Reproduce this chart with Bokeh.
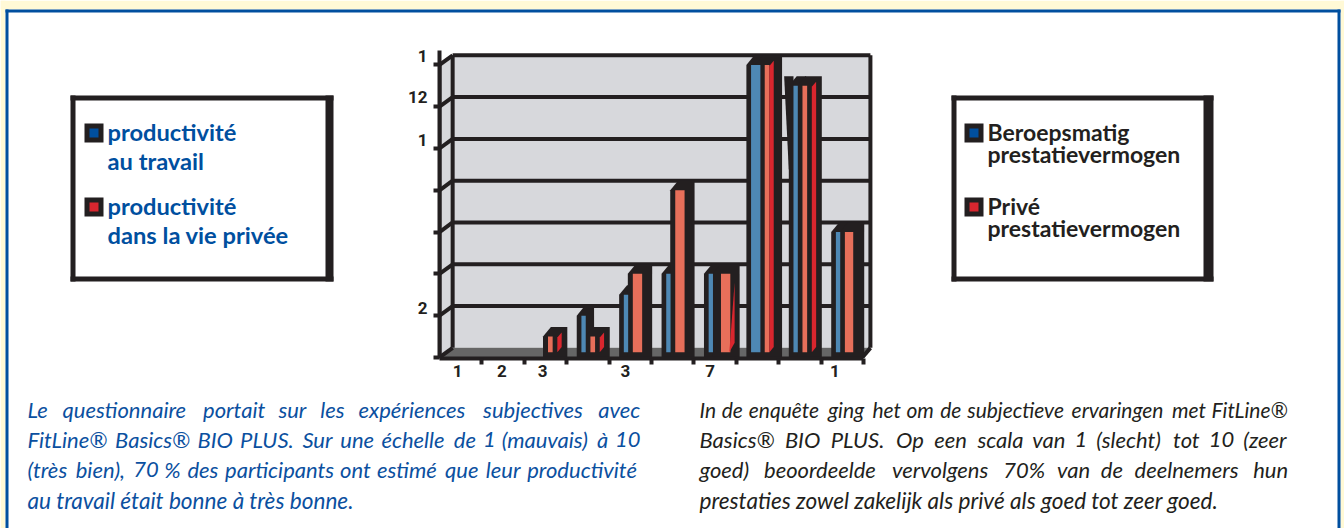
from bokeh.plotting import figure
from bokeh.layouts import column, row
from bokeh.models import LinearAxis, FixedTicker, Range1d
from bokeh.core.properties import value
from bokeh.embed import file_html
from bokeh.resources import INLINE

categories = list(range(1, 11))
blue_values = [0, 0, 0, 2, 3, 4, 4, 14, 13, 6]
red_values = [0, 0, 1, 1, 4, 8, 4, 14, 13, 6]
x_tick_labels = {0.93: "1", 1.97: "2", 2.93: "3", 4.88: "3", 6.88: "7", 9.82: "1"}
y_tick_labels = {14.42: "1", 12.45: "12", 10.42: "1", 2.35: "2"}
fr_legend = [["productivité", "au travail"], ["productivité", "dans la vie privée"]]
nl_legend = [["Beroepsmatig", "prestatievermogen"], ["Privé", "prestatievermogen"]]
fr_text = ["Le questionnaire portait sur les expériences subjectives avec",
           "FitLine® Basics® BIO PLUS. Sur une échelle de 1 (mauvais) à 10",
           "(très bien), 70 % des participants ont estimé que leur productivité",
           "au travail était bonne à très bonne."]
nl_text = ["In de enquête ging het om de subjectieve ervaringen met FitLine®",
           "Basics® BIO PLUS. Op een scala van 1 (slecht) tot 10 (zeer",
           "goed) beoordeelde vervolgens 70% van de deelnemers hun",
           "prestaties zowel zakelijk als privé als goed tot zeer goed."]

BLACK, WALL, FLOOR = "#231F20", "#D7D8DC", "#666666"
BLUE, ORANGE, RED = "#4E88B4", "#E76F5A", "#D9262E"
NAVY, BRAND_BLUE, BRAND_RED = "#0B50A0", "#004F9F", "#D8262F"
PALE = "#FFF9D6"
W, H = 1344, 528
DX, DY = 0.31, 0.46
UNIT = 127.2

# ---------- page background: borders, legends and paragraphs ----------
bg = figure(width=W, height=H, output_backend="svg", toolbar_location=None,
            x_range=Range1d(0, W), y_range=Range1d(H, 0),
            x_axis_location=None, y_axis_location=None,
            min_border=0, min_border_left=0, min_border_right=0, min_border_top=0, min_border_bottom=0)
bg.grid.visible = False
bg.outline_line_color = None


def box(l, r, t, b, color):
    bg.quad(left=l, right=r, top=t, bottom=b, fill_color=color, line_color=None)


def label(px, py, text, size, color, font, style):
    bg.text(x=[px], y=[py], text=[text], text_font=value(font), text_font_style=style,
            text_font_size=size, text_color=color, text_baseline="alphabetic")


EM = {"i": .23, "l": .23, "j": .23, "t": .33, "f": .3, "r": .35, "s": .41, "c": .46, "e": .5, "a": .49,
      "m": .82, "w": .74, "v": .47, "y": .47, "k": .47, "x": .47, "z": .45, ".": .23, ",": .23,
      "(": .3, ")": .3, "®": .85, "%": .8, "I": .27, "L": .5, "F": .52, "S": .55, "P": .58, "U": .7,
      "O": .78, "B": .62, "1": .58, "0": .58, "7": .58}


def word_width(word, size):
    return sum(EM.get(c, .55) for c in word) * size


def justified(line, x0, x1, y, size, color):
    words = line.split(" ")
    widths = [word_width(w, size) for w in words]
    gap = (x1 - x0 - sum(widths)) / (len(words) - 1)
    x = x0
    for w, ww in zip(words, widths):
        label(x, y, w, f"{size}px", color, "Lato", "italic")
        x += ww + gap


box(0, W, 0, 9, PALE)
box(0, 5, 0, H, PALE)
box(1340, W, 0, H, PALE)
box(5, 1340, 9, 12, BRAND_BLUE)
box(5, 8, 9, H, BRAND_BLUE)
box(1337, 1340, 9, H, BRAND_BLUE)

for l, r, thick, tx, swatch, legend, col, size, second in [
        (70, 333, 8, 107, 84, fr_legend, BRAND_BLUE, "23.7px", 29),
        (951, 1213, 10, 987, 964, nl_legend, BLACK, "23px", 22)]:
    box(l, r, 95, 100, BLACK)
    box(l, r, 276, 281, BLACK)
    box(l, l + 5, 95, 281, BLACK)
    box(r - thick, r, 95, 281, BLACK)
    for lines, sy, base, fill in [(legend[0], 123, 131, BRAND_BLUE), (legend[1], 197, 205, BRAND_RED)]:
        box(swatch, swatch + 19, sy, sy + 19, BLACK)
        box(swatch + 5, swatch + 14, sy + 5, sy + 14, fill)
        label(tx, base, lines[0], size, col, "Lato", "bold")
        label(tx, base + second, lines[1], size, col, "Lato", "bold")

for lines, x0, x1, col, sizes in [(fr_text, 27, 640, NAVY, [22, 22, 22]), (nl_text, 699, 1289, BLACK, [21, 22, 22])]:
    for i, (t, b) in enumerate(zip(lines, [409, 439, 469, 500])):
        if i < 3:
            justified(t, x0, x1, b, sizes[i], col)
        else:
            label(x0, b, t, "22.6px", col, "Lato", "italic")

# ---------- the chart, laid over the page ----------
CL, CT, CW, CH = 380, 30, 500, 370
p = figure(width=CW, height=CH, output_backend="svg", toolbar_location=None,
           x_range=Range1d(0.5, 10.78), y_range=Range1d(-0.05, 14.69),
           x_axis_location=None, y_axis_location=None,
           min_border_left=59, min_border_right=5, min_border_top=20, min_border_bottom=42)
p.grid.visible = False
p.outline_line_color = None
p.background_fill_color = None
p.border_fill_color = None


def make_axis(tick_values, labels, line, ticks, standoff=0):
    ax = LinearAxis(ticker=FixedTicker(ticks=tick_values))
    ax.major_label_overrides = dict(labels)
    ax.minor_tick_line_color = None
    ax.axis_line_color = BLACK if line else None
    ax.axis_line_width = 4
    ax.major_tick_line_color = BLACK if ticks else None
    ax.major_tick_line_width = 4
    ax.major_tick_out = 6 if ticks else 0
    ax.major_tick_in = 0
    ax.major_label_text_font = "Roboto"
    ax.major_label_text_font_style = "bold"
    ax.major_label_text_font_size = "17px"
    ax.major_label_text_color = BLACK
    ax.major_label_standoff = standoff
    return ax


wall_l, wall_r, front_r = 0.5 + DX, 10.66, 10.47
y_top = 14 + DY
p.patch([0.5, wall_l, wall_l, 0.5], [0, DY, y_top, 14], fill_color=WALL, line_color=None)
p.quad(left=wall_l, right=wall_r, bottom=DY, top=y_top, fill_color=WALL, line_color=None)
p.patch([0.5, wall_l, wall_r, front_r], [0, DY, DY, 0], fill_color=FLOOR, line_color=None)
grid_values = [2, 4, 6, 8, 10, 12, 14]
p.segment(x0=wall_l, x1=wall_r, y0=[v + DY for v in grid_values], y1=[v + DY for v in grid_values],
          line_color=BLACK, line_width=4)
p.segment(x0=0.5, x1=wall_l, y0=[0] + grid_values, y1=[v + DY for v in [0] + grid_values],
          line_color=BLACK, line_width=4)
p.segment(x0=[wall_l, wall_r], x1=[wall_l, wall_r], y0=DY, y1=y_top, line_color=BLACK, line_width=4)
p.segment(x0=[0.5], x1=[0.5], y0=[0], y1=[14], line_color=BLACK, line_width=4)
p.segment(x0=[front_r], x1=[wall_r], y0=[0], y1=[DY], line_color=BLACK, line_width=4)


def z(cat, zoom):
    return cat - 0.5 + (zoom - 6) / UNIT


def silhouette(cat, v, a, b):
    l, r = z(cat, a), z(cat, b)
    return [l, l, l + DX * 0.6, r, r], [0, v, v + DY, v + DY, 0]


BLUE_WIDE = {8: 28}
ORANGE_WIDE = {5: 28, 6: 28, 7: 28, 10: 25}
ORANGE_START = {7: 87, 8: 91}
RED_SIDE = {3, 4, 8, 9}
SIL_RIGHT = {7: 143, 8: 143}

for cat, v in zip(categories, blue_values):
    if v > 0:
        xs, ys = silhouette(cat, v, 36, 88 if cat != 8 else 100)
        p.patch(xs, ys, fill_color=BLACK, line_color=None)
for cat, v in zip(categories, red_values):
    if v > 0:
        xs, ys = silhouette(cat, v, 62, SIL_RIGHT.get(cat, 135))
        p.patch(xs, ys, fill_color=BLACK, line_color=None)
# the dark funnel left of the ninth bar
v9 = blue_values[8]
p.patch([z(9, 22), z(9, 50), z(9, 50), z(9, 36)], [v9 + DY, v9 + DY, 9, 9], fill_color=BLACK, line_color=None)
for cat, v in zip(categories, blue_values):
    if v > 0:
        p.quad(left=z(cat, 50), right=z(cat, 50 + BLUE_WIDE.get(cat, 13)), bottom=0.25, top=v,
               fill_color=BLUE, line_color=None)
for cat, v in zip(categories, red_values):
    if v > 0:
        start = ORANGE_START.get(cat, 77)
        p.quad(left=z(cat, start), right=z(cat, start + ORANGE_WIDE.get(cat, 14)), bottom=0.25, top=v,
               fill_color=ORANGE, line_color=None)
        if cat in RED_SIDE:
            a, b = z(cat, 105), z(cat, 118)
            p.patch([a, a, b, b], [0.25, v - 0.05, v + 0.2, 0.5], fill_color=RED, line_color=None)
# the red sliver on the seventh bar
p.patch([z(7, 112), z(7, 128), z(7, 128)], [0.25, 0.7, 3.6], fill_color=RED, line_color=None)

zero_to_14 = [0, 2, 4, 6, 8, 10, 12, 14]
p.add_layout(make_axis(zero_to_14, {k: "" for k in zero_to_14}, True, True), "left")
p.add_layout(make_axis(list(y_tick_labels), y_tick_labels, False, False, standoff=6), "left")
ticks_x = [c + 0.5 for c in categories]
bottom_axis = make_axis(ticks_x, {k: "" for k in ticks_x}, True, True)
bottom_axis.bounds = (0.5, 10.5)
p.add_layout(bottom_axis, "below")
p.add_layout(make_axis(list(x_tick_labels), x_tick_labels, False, False), "below")

holder = row(p, margin=(-(H - CT), 0, 0, CL))
page = column(bg, holder, width=W, height=H)
open("out.html", "w").write(file_html(page, INLINE))
